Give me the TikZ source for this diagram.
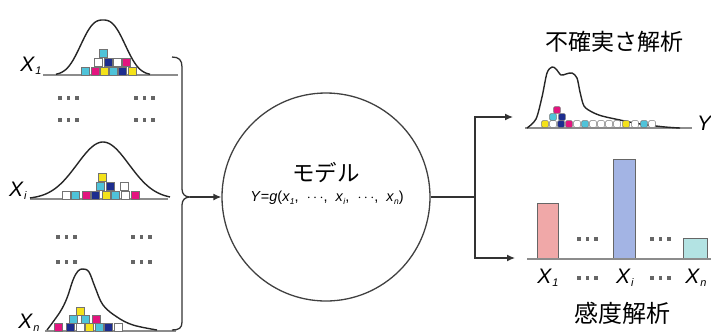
\documentclass[tikz,border=0pt]{standalone}
\usepackage{fontspec}
\setmainfont{Liberation Sans}
\newfontfamily\jp{Noto Sans CJK JP}
\usetikzlibrary{arrows.meta,calc}
\definecolor{sqcyan}{HTML}{4FC3D9}
\definecolor{sqmag}{HTML}{E3147F}
\definecolor{sqyel}{HTML}{F4E21A}
\definecolor{sqnavy}{HTML}{1D2D8F}
\definecolor{barpink}{HTML}{F0A8A8}
\definecolor{barblue}{HTML}{A3B4E4}
\definecolor{barcyan}{HTML}{B3E3E3}
\newcommand\Xlab[1]{\textit{X}\kern0.3pt\raisebox{-0.3ex}{\fontsize{11}{11}\selectfont\textit{#1}}}
\newcommand\xsub[1]{\textit{x}\raisebox{-0.3ex}{\fontsize{8.5}{8.5}\selectfont\textit{#1}}}
\newcommand\sqr[3]{\filldraw[sqbox, fill=#1] (#2,#3) ++(-3.8,-3.8) rectangle ++(7.6,7.6);}
\newcommand\ysq[3]{\filldraw[sqbox, fill=#1, rounded corners=1pt] (#2,#3) ++(-3.3,-3.3) rectangle ++(6.6,6.6);}
\newcommand\tdots[2]{\foreach \k in {0,1,2}{\fill[black!60] (#1+\k*8.5-1.6,#2-1.6) rectangle ++(3.2,3.2);}}
\begin{document}
\begin{tikzpicture}[x=1pt,y=-1pt,
  curve/.style={draw=black!85, line width=1.4pt, line join=round},
  base/.style={draw=black!45, line width=1.6pt},
  conn/.style={draw=black!80, line width=1.3pt},
  arr/.style={conn, line join=miter, -{Latex[length=8pt,width=7pt]}},
  sqbox/.style={draw=black!55, line width=0.5pt},
  barbox/.style={draw=black!60, line width=1pt},
  xl/.style={inner sep=0pt, font=\fontsize{21}{24}\selectfont},
  jl/.style={inner sep=0pt, font=\jp\fontsize{23}{26}\selectfont}]
\useasboundingbox (0,0) rectangle (711,333);

% ---- X1 distribution
\draw[base] (43,75) -- (178,75);
\draw[curve] plot[domain=56:150, samples=80, smooth] (\x, {75-55*exp(-pow(abs((\x-103)/27),2.6))});
\sqr{sqcyan}{85}{71}\sqr{sqmag}{95}{71}\sqr{sqyel}{104}{71}\sqr{sqcyan}{113}{71}\sqr{sqnavy}{122}{71}\sqr{sqyel}{132}{71}
\sqr{white}{98}{62}\sqr{sqnavy}{108}{62}\sqr{white}{117}{62}\sqr{sqmag}{126}{62}
\sqr{sqcyan}{103}{53}
\node[xl] (x1) at (31,66) {\Xlab{1}};

\tdots{60}{98}\tdots{136}{98}
\tdots{60}{120}\tdots{136}{120}

% ---- Xi distribution
\draw[base] (30,199) -- (168,199);
\draw[curve] plot[domain=30:170, samples=80, smooth] (\x, {199-57*exp(-((\x-103)/26)^2/2)});
\sqr{white}{66}{195}\sqr{sqcyan}{75}{195}\sqr{sqmag}{86}{195}\sqr{sqnavy}{95}{195}\sqr{sqyel}{106}{195}\sqr{sqcyan}{115}{195}\sqr{white}{125}{195}\sqr{sqmag}{135}{195}
\sqr{sqcyan}{100}{186}\sqr{sqnavy}{110}{186}\sqr{white}{124}{186}
\sqr{sqyel}{102}{177}
\node[xl] (xi) at (18,191) {\Xlab{i}};

\tdots{58}{237}\tdots{133}{237}
\tdots{58}{262}\tdots{133}{262}

% ---- Xn distribution
\draw[base] (45,331) -- (176,331);
\draw[curve] plot[smooth, tension=0.6] coordinates {(47,330) (60,312) (67,298) (73,280) (78,271) (83,269) (89,272) (95,287) (103,305) (117,317) (133,325) (157,330)};
\sqr{sqmag}{58}{327}\sqr{sqnavy}{70}{327}\sqr{white}{80}{327}\sqr{sqyel}{89}{327}\sqr{sqcyan}{99}{327}\sqr{sqnavy}{108}{327}\sqr{white}{118}{327}
\sqr{sqcyan}{73}{319}\sqr{sqcyan}{85}{319}\sqr{sqmag}{96}{319}
\sqr{sqyel}{80}{311}
\node[xl] (xn) at (29,323) {\Xlab{n}};

% ---- brace
\draw[conn] (172,57) .. controls (179,57) and (182,60) .. (182,67) -- (182,189)
  .. controls (182,194) and (185,197) .. (190,197)
  .. controls (185,197) and (182,200) .. (182,205) -- (182,322)
  .. controls (182,328) and (179,330) .. (172,330);
\coordinate (bt) at (190,197);

% ---- model
\node[circle, draw=black!75, line width=1.3pt, minimum size=208pt, inner sep=0pt] (model) at (326,197) {};
\node[jl, font=\jp\fontsize{22.5}{25}\selectfont] (mtitle) at (326,173) {モデル};
\node[inner sep=0pt, font=\fontsize{14.5}{16}\selectfont] (mform) at (327,198)
  {\textit{Y}=\textit{g}(\xsub{1},\ \ $\cdots$,\ \ \xsub{i},\ \ $\cdots$,\ \ \xsub{n})};
\draw[arr] (bt) -- (model.west);

% ---- split
\coordinate (sp) at (475,197);
\coordinate (ua) at (513,117);
\coordinate (sa) at (515,258);
\draw[conn] (model.east) -- (sp);
\draw[arr] (sp) |- (ua);
\draw[arr] (sp) |- (sa);

% ---- uncertainty analysis
\node[jl] (ua-title) at (614,42) {不確実さ解析};
\draw[base] (525,128) -- (692,128);
\draw[curve] plot[smooth, tension=0.5] coordinates {(527,128) (536,119) (542,97) (547,73) (552,67) (556,69) (561,75) (566,74) (572,73) (577,78) (580,92) (584,106) (592,112) (602,116) (620,120) (640,124) (665,127) (680,128)};
\ysq{sqyel}{545}{124}\ysq{white}{553}{124}\ysq{sqnavy}{561}{124}\ysq{sqmag}{569}{124}\ysq{white}{577}{124}\ysq{sqcyan}{585}{124}\ysq{white}{593}{124}\ysq{white}{601}{124}\ysq{white}{609}{124}\ysq{white}{617}{124}\ysq{sqyel}{626}{124}\ysq{white}{635}{124}\ysq{sqcyan}{644}{124}\ysq{white}{652}{124}
\ysq{sqcyan}{553}{117}\ysq{sqnavy}{562}{117}
\ysq{sqmag}{557}{110}
\node[xl, anchor=west] (ylab) at (697,123) {\textit{Y}};

% ---- sensitivity analysis
\draw[barbox, fill=barpink] (537,259) rectangle (558,203);
\draw[barbox, fill=barblue] (613,259) rectangle (635,159);
\draw[barbox, fill=barcyan] (683,259) rectangle (707,238);
\draw[base] (527,259) -- (711,259);
\tdots{579}{239}\tdots{652}{239}
\tdots{579}{278}\tdots{652}{278}
\node[xl] (b1) at (548,278) {\Xlab{1}};
\node[xl] (bi) at (625,278) {\Xlab{i}};
\node[xl] (bn) at (696,278) {\Xlab{n}};
\node[jl, font=\jp\fontsize{24}{27}\selectfont] (sa-title) at (622,313) {感度解析};
\end{tikzpicture}
\end{document}
